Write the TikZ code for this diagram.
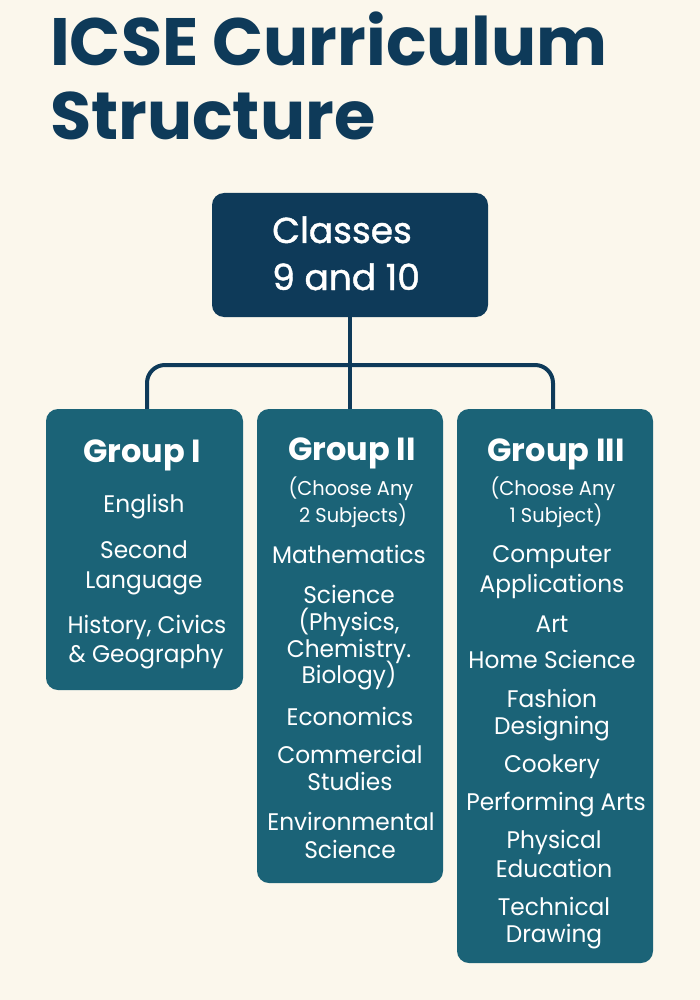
\documentclass[tikz,border=0pt]{standalone}
\usepackage{fontspec}
\setmainfont{Poppins}
\newfontfamily\bodyfont{Poppins}[FakeStretch=0.97]
\newfontfamily\medfont{Poppins}[FakeBold=1.2]
\definecolor{bg}{HTML}{FBF7EC}
\definecolor{navy}{HTML}{0E3A59}
\definecolor{teal}{HTML}{1B6377}
\tikzset{
  topbox/.style={fill=navy, rounded corners=12pt, inner sep=0pt},
  grpbox/.style={fill=teal, rounded corners=12pt, inner sep=0pt},
  conn/.style={draw=navy, line width=4pt},
  ttl/.style={anchor=base west, text=navy, font=\fontsize{67}{67}\selectfont\bfseries, inner sep=0pt},
  toptext/.style={anchor=base west, text=white, font=\fontsize{36}{36}\medfont, inner sep=0pt},
  head/.style={anchor=base, text=white, font=\fontsize{32}{32}\selectfont\bfseries, inner sep=0pt},
  item/.style={anchor=base, text=white, font=\fontsize{24}{24}\bodyfont, inner sep=0pt},
  note/.style={anchor=base, text=white, font=\fontsize{20}{20}\bodyfont, inner sep=0pt}
}
\begin{document}
\begin{tikzpicture}[x=1pt,y=-1pt]
\fill[bg] (0,0) rectangle (700,1000);
\useasboundingbox (0,0) rectangle (700,1000);
% title
\node[ttl] (title1) at (50,66) {ICSE Curriculum};
\node[ttl] (title2) at (50,140) {Structure};
% boxes
\node[topbox, minimum width=276, minimum height=124] (top) at (350,255) {};
\node[grpbox, minimum width=197, minimum height=281] (g1) at (144.5,549.5) {};
\node[grpbox, minimum width=186, minimum height=474] (g2) at (350,646) {};
\node[grpbox, minimum width=196, minimum height=554] (g3) at (555,686) {};
% connectors
\coordinate (hj) at (350,365);
\draw[conn] (top.south) -- (g2.north);
\draw[conn, rounded corners=18pt] ([xshift=2.5pt]g1.north) |- (hj) -| ([xshift=-2pt]g3.north);
% top text
\node[toptext] (c1) at (272,243) {Classes};
\node[toptext] (c2) at (272,290) {9 and 10};
% group I
\node[head] (h1) at (142,462) {Group I};
\node[item] (a1) at (144,512) {English};
\node[item] (a2) at (144,558) {Second};
\node[item] (a3) at (144,588) {Language};
\node[item] (a4) at (147,633) {History, Civics};
\node[item] (a5) at (146,662) {\& Geography};
% group II
\node[head] (h2) at (352,460) {Group II};
\node[note] (b0) at (351,495) {(Choose Any};
\node[note] (b00) at (353,522) {2 Subjects)};
\node[item] (b1) at (349,563) {Mathematics};
\node[item] (b2) at (349,603) {Science};
\node[item] (b3) at (349,630) {(Physics,};
\node[item] (b4) at (349,657) {Chemistry.};
\node[item] (b5) at (349,683) {Biology)};
\node[item] (b6) at (350,725) {Economics};
\node[item] (b7) at (350,763) {Commercial};
\node[item] (b8) at (350,790) {Studies};
\node[item] (b9) at (351,830) {Environmental};
\node[item] (b10) at (350,858) {Science};
% group III
\node[head] (h3) at (556,461) {Group III};
\node[note] (d0) at (553,495) {(Choose Any};
\node[note] (d00) at (556,522) {1 Subject)};
\node[item] (d1) at (552,562) {Computer};
\node[item] (d2) at (552,592) {Applications};
\node[item] (d3) at (552,632) {Art};
\node[item] (d4) at (552,668) {Home Science};
\node[item] (d5) at (552,707) {Fashion};
\node[item] (d6) at (552,734) {Designing};
\node[item] (d7) at (552,772) {Cookery};
\node[item] (d8) at (556,810) {Performing Arts};
\node[item] (d9) at (554,848) {Physical};
\node[item] (d10) at (554,877) {Education};
\node[item] (d11) at (554,915) {Technical};
\node[item] (d12) at (554,942) {Drawing};
\end{tikzpicture}
\end{document}
